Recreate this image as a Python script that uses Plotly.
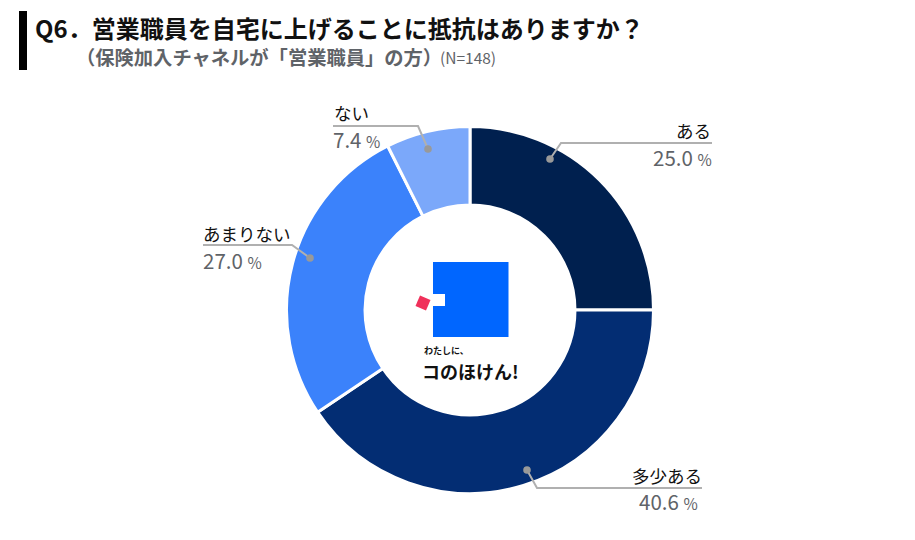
import plotly.graph_objects as go

categories = ["ある", "多少ある", "あまりない", "ない"]
values = [25.0, 40.6, 27.0, 7.4]
colors = ["#00204F", "#032D73", "#3B82FB", "#7BA8FA"]
title_main = "Q6．営業職員を自宅に上げることに抵抗はありますか？"
title_sub = "（保険加入チャネルが「営業職員」の方）"
title_n = "(N=148)"

W, H = 915, 540
FONT = "Noto Sans CJK JP"
def px(x): return x / W
def py(y): return 1 - y / H

cx, cy, r = 470, 310, 183.5

fig = go.Figure(go.Pie(
    labels=categories, values=values, sort=False, direction="clockwise", rotation=0,
    hole=0.572, textinfo="none", hoverinfo="label+percent",
    marker=dict(colors=colors, line=dict(color="white", width=3)),
    domain=dict(x=[px(cx - r), px(cx + r)], y=[py(cy + r), py(cy - r)]),
    showlegend=False,
))

shapes = []
annotations = []

def text(x, y, s, size, color, anchor="left", weight=None):
    if weight: s = f"<b>{s}</b>"
    annotations.append(dict(x=px(x), y=py(y), xref="paper", yref="paper", text=s, showarrow=False,
        xanchor=anchor, yanchor="middle", font=dict(size=size, color=color, family=FONT),
        borderpad=0, borderwidth=0, align=anchor))

def path(d, fill=None, line=None, width=0):
    shapes.append(dict(type="path", xref="paper", yref="paper", path=d,
        fillcolor=fill if fill else "rgba(0,0,0,0)",
        line=dict(color=line if line else "rgba(0,0,0,0)", width=width)))

def poly(pts, close=True):
    s = "M " + " L ".join(f"{px(a):.5f},{py(b):.5f}" for a, b in pts)
    return s + (" Z" if close else "")

# title bar
path(poly([(19, 11), (27, 11), (27, 70), (19, 70)]), fill="#000000")
text(35, 27.5, title_main, 24, "#111111", weight=True)
text(76, 56.5, title_sub, 19.3, "#5f6368", weight=True)
text(440, 57, title_n, 15.5, "#5f6368")

# leader lines
GREY = "#b0b0b0"
leaders = [
    [(550, 159), (561, 143), (712, 143)],
    [(527, 470), (537, 488), (702, 488)],
    [(310, 258), (292, 245), (203, 245)],
    [(428, 149), (418, 126), (333, 126)],
]
for pts in leaders:
    path(poly(pts, close=False), line=GREY, width=2)
    x, y = pts[0]
    shapes.append(dict(type="circle", xref="paper", yref="paper", x0=px(x-3.8), x1=px(x+3.8),
        y0=py(y+3.8), y1=py(y-3.8), fillcolor="#999999", line=dict(width=0)))

# labels
def pct(v):
    return f"{v:.1f} <span style='font-size:15.5px'>%</span>"
GREYT = "#5f6368"
text(711, 130.5, categories[0], 17.5, "#111111", "right")
text(712, 157, pct(values[0]), 20.5, GREYT, "right")
text(702, 475.5, categories[1], 17.5, "#111111", "right")
text(698, 501, pct(values[1]), 20.5, GREYT, "right")
text(203, 233.5, categories[2], 17.5, "#111111", "left")
text(203, 260, pct(values[2]), 20.5, GREYT, "left")
text(334, 112.5, categories[3], 17.5, "#111111", "left")
text(333, 138.5, pct(values[3]), 20.5, GREYT, "left")

# center logo
path(poly([(433, 262), (508.5, 262), (508.5, 337), (433, 337), (433, 306), (445, 306), (445, 294), (433, 294)]), fill="#0066FF")
path(poly([(420, 295.5), (430.5, 300), (426, 310.5), (415.5, 306)]), fill="#F0305A")
text(424, 350, "わたしに、", 9, "#111111", weight=True)
text(422, 371, "コのほけん!", 18, "#111111", weight=True)

fig.update_layout(width=W, height=H, margin=dict(l=0, r=0, t=0, b=0), paper_bgcolor="white",
    plot_bgcolor="white", shapes=shapes, annotations=annotations, font=dict(family=FONT))
fig.write_html("out.html", post_script="document.body.style.margin='0';",
               config={"displayModeBar": False})
